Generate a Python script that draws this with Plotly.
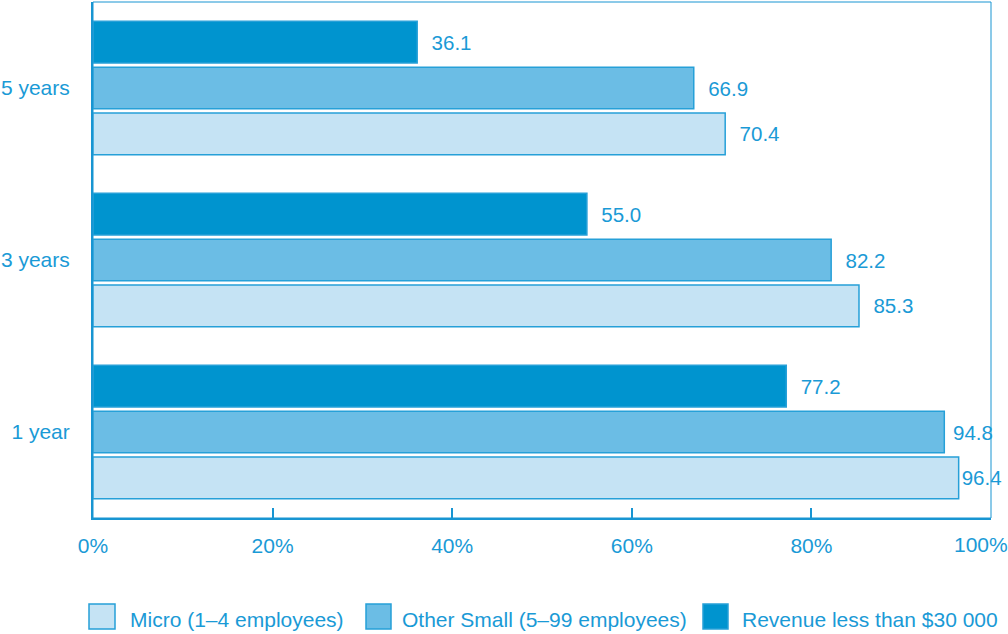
import plotly.graph_objects as go

# Survival rates by firm type (%)
periods = ["1 year", "3 years", "5 years"]
micro = [96.4, 85.3, 70.4]
other_small = [94.8, 82.2, 66.9]
revenue_lt_30k = [77.2, 55.0, 36.1]

series_names = ["Micro (1–4 employees)", "Other Small (5–99 employees)", "Revenue less than $30 000"]
x_ticks = [0, 20, 40, 60, 80, 100]
x_tick_labels = ["0%", "20%", "40%", "60%", "80%", ""]
last_tick_label = "100%"

TEXT = "#1A9AD6"
EDGE = "#26A0D8"
AXIS = "#1895D2"
fills = ["#C5E3F4", "#6BBDE5", "#0094CF"]
FONT = "Liberation Sans, Arial, sans-serif"


def label_template(v):
    # labels near the right edge sit tighter against their bars
    if v > 96:
        return "%{x:.1f}"
    if v > 90:
        return "\u00a0%{x:.1f}"
    return "\u00a0\u00a0%{x:.1f}"


fig = go.Figure()
for name, vals, fill in zip(series_names, [micro, other_small, revenue_lt_30k], fills):
    fig.add_trace(go.Bar(
        y=periods, x=vals, orientation="h", name=name,
        marker=dict(color=fill, line=dict(color=EDGE, width=1.5)),
        texttemplate=[label_template(v) for v in vals], textposition="outside",
        outsidetextfont=dict(color=TEXT, size=20.5, family=FONT),
        cliponaxis=False, showlegend=False,
    ))

# frame around the plotting area
fig.add_shape(type="rect", xref="paper", yref="paper", x0=0, x1=1, y0=0, y1=1,
              line=dict(color=AXIS, width=1), layer="below")

# the final x tick label is nudged left so it stays inside the figure
fig.add_annotation(x=x_ticks[-1], xref="x", y=0, yref="paper", yanchor="top",
                   xanchor="center", xshift=-10, yshift=-13, showarrow=False,
                   text=last_tick_label, font=dict(color=TEXT, size=21, family=FONT))

# legend drawn as swatches + labels below the axis
legend_items = [
    (89, 115, 128),
    (366, 391, 400),
    (703, 728, 740),
]
L, W, T, H = 93, 898, 2, 516
def px_x(p):
    return (p - L) / W
def px_y(p):
    return (T + H - p) / H
for (sx0, sx1, tx), name, fill in zip(legend_items, series_names, fills):
    fig.add_shape(type="rect", xref="paper", yref="paper",
                  x0=px_x(sx0), x1=px_x(sx1), y0=px_y(629), y1=px_y(604),
                  fillcolor=fill, line=dict(color=EDGE, width=1.5))
    fig.add_annotation(xref="paper", yref="paper", x=px_x(tx), y=px_y(619),
                       xanchor="left", yanchor="middle", showarrow=False,
                       text=name, font=dict(color=TEXT, size=21, family=FONT))

fig.update_layout(
    width=1008, height=634,
    margin=dict(l=L, r=1008 - L - W, t=T, b=634 - T - H, autoexpand=False),
    paper_bgcolor="white", plot_bgcolor="white",
    barmode="group", bargap=0.2, bargroupgap=0.09,
    font=dict(family=FONT, color=TEXT, size=21),
    xaxis=dict(range=[0, 100], tickvals=x_ticks, ticktext=x_tick_labels,
               showgrid=False, zeroline=False, showline=True, linecolor=AXIS, linewidth=2,
               ticks="inside", ticklen=10, tickwidth=2, tickcolor=AXIS,
               ticklabelstandoff=8, automargin=False,
               tickfont=dict(size=21, color=TEXT)),
    yaxis=dict(showgrid=False, zeroline=False, showline=True, linecolor=AXIS, linewidth=2,
               ticks="", ticklabelstandoff=17, automargin=False,
               tickfont=dict(size=21, color=TEXT), range=[-0.5, 2.5]),
)

fig.write_html("out.html")
